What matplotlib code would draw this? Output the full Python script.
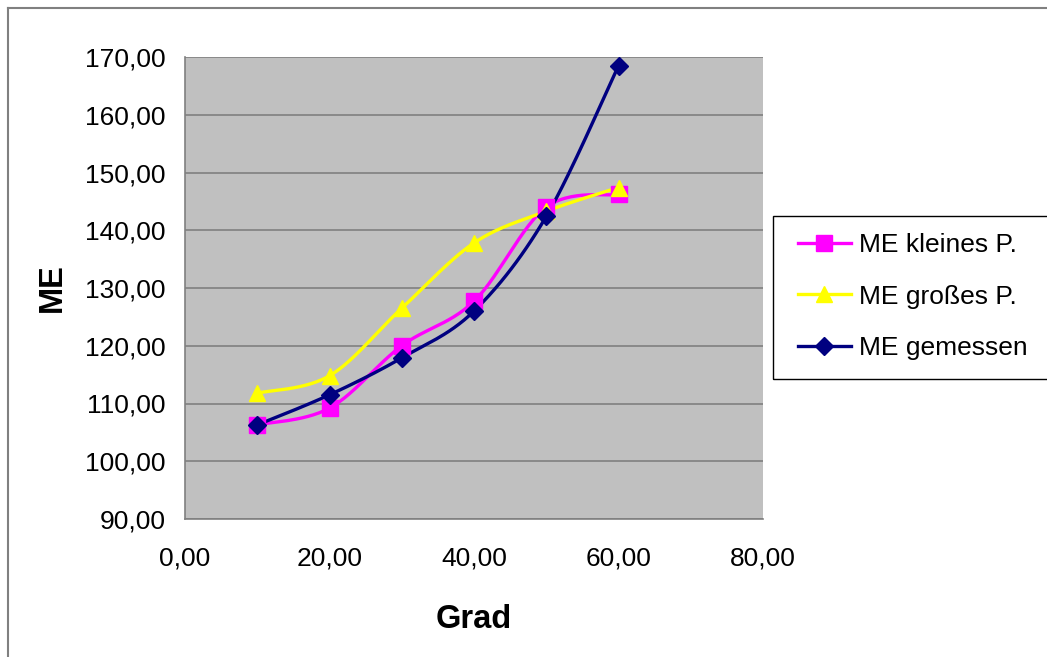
import numpy as np
import matplotlib
matplotlib.use("Agg")
import matplotlib.pyplot as plt
from matplotlib.lines import Line2D
from matplotlib.patches import Rectangle

plt.rcParams['font.family'] = ['Liberation Sans', 'DejaVu Sans']

grad = [10, 20, 30, 40, 50, 60]
me_klein = [106.3, 109.2, 120.0, 127.7, 144.0, 146.2]
me_gross = [111.8, 114.8, 126.5, 137.8, 143.3, 147.4]
me_gemessen = [106.3, 111.5, 117.9, 126.0, 142.4, 168.5]

labels = ['ME kleines P.', 'ME großes P.', 'ME gemessen']
colors = ['#FF00FF', '#FFFF00', '#000080']
markers = ['s', '^', 'D']
msizes = [11, 12, 9]


def smooth(x, y, n=30):
    # excel-like smoothing: cubic bezier, control points from neighbours
    p = np.column_stack([x, y]).astype(float)
    pts = [p[0]]
    for i in range(len(p) - 1):
        p0 = p[i - 1] if i > 0 else p[i]
        p3 = p[i + 2] if i + 2 < len(p) else p[i + 1]
        c1 = p[i] + (p[i + 1] - p0) / 6
        c2 = p[i + 1] - (p3 - p[i]) / 6
        t = np.linspace(0, 1, n)[1:, None]
        seg = ((1 - t) ** 3 * p[i] + 3 * (1 - t) ** 2 * t * c1
               + 3 * (1 - t) * t ** 2 * c2 + t ** 3 * p[i + 1])
        pts.extend(seg)
    pts = np.array(pts)
    return pts[:, 0], pts[:, 1]


fig = plt.figure(figsize=(10.47, 6.57), dpi=100)
ax = fig.add_axes([185 / 1047, 1 - 519 / 657, (763 - 185) / 1047, (519 - 57) / 657])
ax.set_facecolor('#C0C0C0')

handles = []
for ys, c, m, ms, lab in zip([me_klein, me_gross, me_gemessen], colors, markers, msizes, labels):
    sx, sy = smooth(grad, ys)
    ax.plot(sx, sy, color=c, lw=2.4, zorder=3)
    ax.plot(grad, ys, ls='none', marker=m, ms=ms, color=c, mec=c, zorder=4)
    handles.append(Line2D([], [], color=c, lw=2.4, marker=m, ms=ms, mec=c))

ax.set_xlim(0, 80)
ax.set_ylim(90, 170)
ax.set_xticks(np.arange(0, 81, 20))
ax.set_yticks(np.arange(90, 171, 10))
ax.xaxis.set_major_formatter(lambda v, pos: f'{v:.2f}'.replace('.', ','))
ax.yaxis.set_major_formatter(lambda v, pos: f'{v:.2f}'.replace('.', ','))
ax.tick_params(length=0, labelsize=19)
ax.tick_params(axis='x', pad=20)
ax.tick_params(axis='y', pad=14)
ax.grid(axis='y', color='#808080', lw=1.2)
ax.set_axisbelow(True)
for s in ['top', 'right']:
    ax.spines[s].set_visible(False)
for s in ['left', 'bottom']:
    ax.spines[s].set_color('#808080')
    ax.spines[s].set_linewidth(1.2)

ax.set_xlabel('Grad', fontsize=23.5, fontweight='bold', labelpad=24)
ax.set_ylabel('ME', fontsize=23.5, fontweight='bold', labelpad=12)

# legend frame drawn separately, runs past the right edge like the original
fig.add_artist(Rectangle((773 / 1047, 1 - 379 / 657), 0.3, 163 / 657, fill=False,
                         ec='black', lw=1.0, transform=fig.transFigure))
leg = fig.legend(handles=handles, labels=labels, loc='upper left',
                 bbox_to_anchor=(782 / 1047, 1 - 217 / 657), borderaxespad=0,
                 fontsize=19, frameon=False, handlelength=2.0, labelspacing=1.05,
                 borderpad=0.6, handletextpad=0.3)

# outer chart border (top and left visible)
fig.add_artist(Line2D([8 / 1047, 1], [1 - 8 / 657, 1 - 8 / 657], transform=fig.transFigure, color='#808080', lw=1.5))
fig.add_artist(Line2D([8 / 1047, 8 / 1047], [0, 1 - 8 / 657], transform=fig.transFigure, color='#808080', lw=1.5))

fig.savefig('out.png', dpi=100)
